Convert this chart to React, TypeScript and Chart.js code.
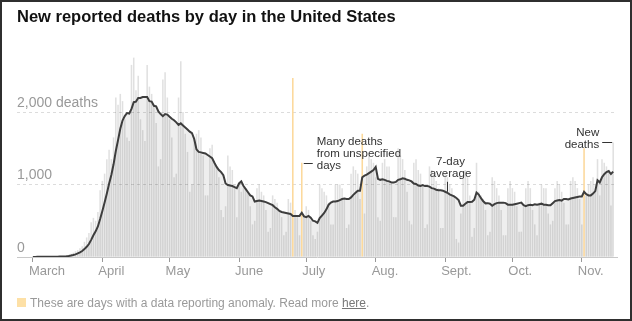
import React, { useEffect, useRef } from 'react';
import { Chart, registerables } from 'chart.js';

Chart.register(...registerables);

// Day index 0 = March 1, 2020
const monthLabels = ['March', 'April', 'May', 'June', 'July', 'Aug.', 'Sept.', 'Oct.', 'Nov.'];
const monthStartDays = [0, 31, 61, 92, 122, 153, 184, 214, 245];

const yTickValues = [0, 1000, 2000];
const yTickLabels = ['0', '1,000', '2,000 deaths'];

// New reported deaths per day, March 1 – Nov. 15
const dailyDeaths = [
  1, 1, 4, 1, 2, 2, 3,
  2, 4, 6, 7, 8, 11, 9,
  12, 22, 30, 45, 60, 80, 95,
  120, 150, 210, 270, 330, 480, 540,
  500, 620, 920, 1050, 1150, 1350, 1480,
  1350, 1650, 2200, 2100, 2250, 2150, 1900,
  1650, 1600, 2650, 2750, 2300, 2500, 1900,
  1750, 1600, 2650, 2350, 2250, 2100, 1850,
  1250, 1350, 2450, 2550, 2200, 1900, 1650,
  1100, 1150, 2200, 2700, 2000, 1700, 1450,
  900, 1000, 1650, 1700, 1750, 1650, 1400,
  850, 850, 1500, 1550, 1300, 1250, 1100,
  650, 550, 700, 1400, 1250, 1200, 1000,
  550, 1000, 900, 950, 950, 900, 700,
  450, 500, 950, 1000, 900, 850, 650,
  350, 400, 850, 800, 750, 650, 550,
  300, 350, 800, 750, 2470, 650, 550,
  300, 1300, 550, 700, 650, 500, 300,
  250, 350, 1000, 950, 900, 850, 750,
  450, 450, 1000, 1000, 1000, 950, 800,
  400, 450, 1150, 1250, 1200, 1150, 800,
  1700, 600, 1250, 1400, 1350, 1300, 1100,
  550, 500, 1300, 1350, 1250, 1250, 1000,
  550, 550, 1500, 1400, 1350, 1200, 900,
  500, 450, 1300, 1350, 1200, 1150, 1000,
  400, 450, 1250, 1200, 1150, 1050, 950,
  400, 400, 1150, 1100, 1000, 950, 850,
  250, 200, 600, 1100, 1200, 1100, 850,
  280, 400, 1300, 900, 850, 800, 650,
  300, 350, 1100, 1050, 950, 850, 650,
  300, 300, 950, 1050, 950, 900, 700,
  350, 350, 700, 950, 1050, 950, 650,
  450, 300, 750, 1000, 950, 950, 600,
  450, 500, 950, 1050, 1000, 900, 750,
  450, 450, 1050, 1100, 1050, 950, 800,
  450, 1500, 850, 1000, 1050, 1100, 1000,
  1350, 850, 1350, 1300, 1250, 1200, 710,
  1580,
];

// Days with a data reporting anomaly
const anomalyDays = [116, 120, 147, 246];
// Anomalies left out of the 7-day average
const excludedFromAverage = [116, 120, 246];

const FONT = '"Liberation Sans", Arial, sans-serif';

export default function App() {
  const canvasRef = useRef<HTMLCanvasElement | null>(null);

  useEffect(() => {
    document.body.style.margin = '0';
    const canvas = canvasRef.current;
    if (!canvas) return;

    const sevenDayAvg = dailyDeaths.map((_, i) => {
      let s = 0;
      let n = 0;
      for (let j = Math.max(0, i - 6); j <= i; j++) {
        if (!excludedFromAverage.includes(j)) {
          s += dailyDeaths[j];
          n++;
        }
      }
      return { x: i, y: n ? s / n : 0 };
    });

    const grayBars = dailyDeaths.map((v, i) => ({ x: i, y: anomalyDays.includes(i) ? null : v }));
    const orangeBars = anomalyDays.map((d) => ({ x: d, y: dailyDeaths[d] }));

    const annotationPlugin = {
      id: 'annotations',
      afterDatasetsDraw(chart: any) {
        const { ctx, scales } = chart;
        const x = scales.x;
        const y = scales.y;
        ctx.save();
        ctx.font = `11.5px ${FONT}`;
        ctx.fillStyle = '#333';
        ctx.strokeStyle = '#333';
        ctx.lineWidth = 1;
        ctx.textBaseline = 'middle';

        // Many deaths from unspecified days
        const ax = x.getPixelForValue(120);
        const ay = Math.round(y.getPixelForValue(dailyDeaths[120])) + 0.5;
        ctx.beginPath();
        ctx.moveTo(ax + 2, ay);
        ctx.lineTo(ax + 11, ay);
        ctx.stroke();
        ctx.textAlign = 'left';
        ['Many deaths', 'from unspecified', 'days'].forEach((t, i) => {
          ctx.fillText(t, ax + 15, ay - 22 + i * 12);
        });

        // 7-day average
        const bd = 185;
        const bx = Math.round(x.getPixelForValue(bd)) + 0.5;
        const by = y.getPixelForValue(sevenDayAvg[bd].y);
        ctx.beginPath();
        ctx.moveTo(bx, by - 1);
        ctx.lineTo(bx, by - 11);
        ctx.stroke();
        ctx.textAlign = 'center';
        ctx.fillText('7-day', bx + 3, by - 31);
        ctx.fillText('average', bx + 3, by - 19);

        // New deaths
        const last = dailyDeaths.length - 1;
        const cx = x.getPixelForValue(last);
        const cy = Math.round(y.getPixelForValue(dailyDeaths[last])) + 0.5;
        ctx.beginPath();
        ctx.moveTo(cx - 11, cy);
        ctx.lineTo(cx - 1, cy);
        ctx.stroke();
        ctx.textAlign = 'right';
        ctx.fillText('New', cx - 14, cy - 10);
        ctx.fillText('deaths', cx - 14, cy + 2);
        ctx.restore();
      },
    };

    const chart = new Chart(canvas, {
      type: 'bar',
      data: {
        datasets: [
          {
            type: 'line',
            data: sevenDayAvg,
            borderColor: '#3d3d3d',
            borderWidth: 2,
            pointRadius: 0,
            fill: false,
            tension: 0,
            order: 0,
          } as any,
          {
            type: 'bar',
            data: orangeBars,
            backgroundColor: '#fcd99c',
            borderWidth: 0,
            grouped: false,
            barPercentage: 0.7,
            categoryPercentage: 1,
            order: 1,
          } as any,
          {
            type: 'bar',
            data: grayBars,
            backgroundColor: 'rgba(0,0,0,0.12)',
            borderWidth: 0,
            grouped: false,
            barPercentage: 0.7,
            categoryPercentage: 1,
            order: 2,
          } as any,
          {
            type: 'line',
            data: sevenDayAvg,
            borderWidth: 0,
            borderColor: 'rgba(0,0,0,0)',
            backgroundColor: 'rgba(0,0,0,0.065)',
            pointRadius: 0,
            fill: 'origin',
            tension: 0,
            order: 3,
          } as any,
        ],
      },
      options: {
        animation: false,
        responsive: false,
        devicePixelRatio: 1,
        layout: { padding: { left: 17, right: 15, top: 54, bottom: 24 } },
        plugins: {
          legend: { display: false },
          tooltip: { enabled: false },
          title: { display: false },
        },
        scales: {
          x: {
            type: 'linear',
            offset: false,
            min: -7.1,
            max: 260.7,
            afterFit: (scale: any) => {
              scale.height = 40;
            },
            afterBuildTicks: (scale: any) => {
              scale.ticks = monthStartDays.map((v) => ({ value: v }));
            },
            ticks: {
              autoSkip: false,
              maxRotation: 0,
              align: 'start',
              labelOffset: -4,
              padding: 2,
              color: '#999',
              font: { family: FONT, size: 13 },
              callback: (_v: any, i: number) => monthLabels[i],
            },
            grid: {
              offset: false,
              drawOnChartArea: false,
              drawTicks: true,
              tickLength: 5,
              tickColor: '#999',
              color: '#999',
            },
            border: { display: true, color: '#c8c8c8', width: 1 },
          } as any,
          y: {
            type: 'linear',
            min: 0,
            max: 2800,
            afterFit: (scale: any) => {
              scale.width = 0;
            },
            afterBuildTicks: (scale: any) => {
              scale.ticks = yTickValues.map((v) => ({ value: v }));
            },
            ticks: {
              mirror: true,
              padding: 0,
              labelOffset: -9,
              color: '#999',
              font: { family: FONT, size: 14 },
              callback: (_v: any, i: number) => yTickLabels[i],
            },
            grid: {
              drawTicks: false,
              color: (ctx: any) => (ctx.tick && ctx.tick.value === 0 ? 'rgba(0,0,0,0)' : '#dcdcdc'),
            },
            border: { display: false, dash: [3, 3] },
          } as any,
        },
      },
      plugins: [annotationPlugin],
    });

    return () => chart.destroy();
  }, []);

  return (
    <div style={{ position: 'relative', width: 632, height: 321, background: '#fff', overflow: 'hidden' }}>
      <canvas
        ref={canvasRef}
        width={632}
        height={321}
        style={{ position: 'absolute', left: 0, top: 0, width: 632, height: 321 }}
      />
      <div
        style={{
          position: 'absolute',
          left: 17,
          top: 6,
          fontFamily: FONT,
          fontWeight: 700,
          fontSize: 16.5,
          lineHeight: '20px',
          color: '#121212',
          whiteSpace: 'nowrap',
        }}
      >
        New reported deaths by day in the United States
      </div>
      <div
        style={{
          position: 'absolute',
          left: 17,
          top: 298,
          width: 9,
          height: 9,
          background: '#fde0a6',
        }}
      />
      <div
        style={{
          position: 'absolute',
          left: 30,
          top: 295,
          fontFamily: FONT,
          fontSize: 12,
          lineHeight: '16px',
          color: '#999',
          whiteSpace: 'nowrap',
        }}
      >
        These are days with a data reporting anomaly. Read more{' '}
        <span style={{ textDecoration: 'underline', color: '#777' }}>here</span>.
      </div>
      <div
        style={{
          position: 'absolute',
          left: 0,
          top: 0,
          width: 632,
          height: 321,
          boxSizing: 'border-box',
          border: '2px solid #2f2f2f',
          pointerEvents: 'none',
        }}
      />
    </div>
  );
}
